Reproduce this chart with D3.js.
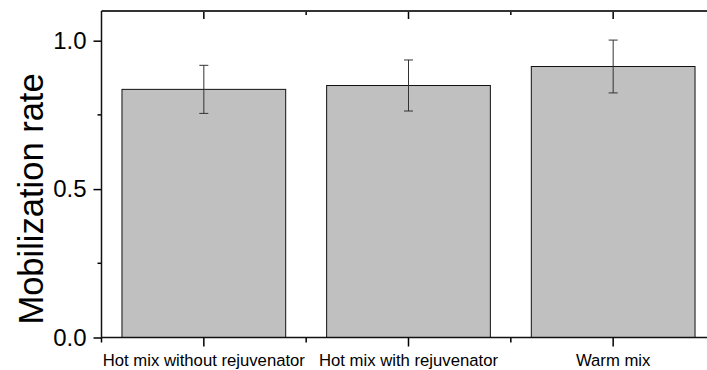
<!DOCTYPE html>
<html>
<head>
<meta charset="utf-8">
<script src="https://cdn.jsdelivr.net/npm/d3@7"></script>
<style>
  html, body { margin: 0; padding: 0; background: #fff; }
  svg { display: block; font-family: "Liberation Sans", Arial, sans-serif; }
</style>
</head>
<body>
<svg id="chart" width="707" height="370"></svg>
<script>
// Mobilization rate by mix type (mean ± error)
const categories = ["Hot mix without rejuvenator", "Hot mix with rejuvenator", "Warm mix"];
const means = [0.836, 0.849, 0.913];
const errors = [0.081, 0.086, 0.089];
const yTicks = [0.0, 0.5, 1.0];
const yMinorTicks = [0.25, 0.75];

const svg = d3.select("#chart");
const plot = { left: 101.5, right: 715.5, top: 11, bottom: 337.5 };

const x = d3.scaleBand()
  .domain(categories)
  .range([plot.left, plot.right])
  .paddingInner(0.2)
  .paddingOuter(0.1);

const y = d3.scaleLinear()
  .domain([0, 1.1])
  .range([plot.bottom, plot.top]);

const step = x.step();
const centers = categories.map(c => x(c) + x.bandwidth() / 2);
const boundaries = categories.map(c => x(c) + x.bandwidth() / 2 - step / 2)
  .concat([x(categories[categories.length - 1]) + x.bandwidth() / 2 + step / 2]);

// bars
svg.append("g").selectAll("rect")
  .data(categories)
  .join("rect")
  .attr("x", c => x(c))
  .attr("y", (c, i) => y(means[i]))
  .attr("width", x.bandwidth())
  .attr("height", (c, i) => y(0) - y(means[i]))
  .attr("fill", "#c0c0c0")
  .attr("stroke", "#111")
  .attr("stroke-width", 1);

// error bars
const eb = svg.append("g").attr("stroke", "#333").attr("stroke-width", 1).attr("fill", "none");
categories.forEach((c, i) => {
  const cx = x(c) + x.bandwidth() / 2;
  const hi = y(means[i] + errors[i]);
  const lo = y(means[i] - errors[i]);
  eb.append("line").attr("x1", cx).attr("x2", cx).attr("y1", hi).attr("y2", lo);
  eb.append("line").attr("x1", cx - 4.5).attr("x2", cx + 4.5).attr("y1", hi).attr("y2", hi);
  eb.append("line").attr("x1", cx - 4.5).attr("x2", cx + 4.5).attr("y1", lo).attr("y2", lo);
});

// left axis
const leftAxis = svg.append("g")
  .attr("transform", `translate(${plot.left},0)`)
  .call(d3.axisLeft(y).tickValues(yTicks).tickFormat(d3.format(".1f")).tickSize(8).tickPadding(7));
leftAxis.select(".domain").remove();
leftAxis.selectAll("line").attr("stroke", "#000").attr("stroke-width", 1.5);
leftAxis.selectAll("text").attr("font-size", 24).attr("fill", "#000")
  .attr("font-family", "Liberation Sans, Arial, sans-serif");
svg.append("g").selectAll("line").data(yMinorTicks).join("line")
  .attr("x1", plot.left - 4).attr("x2", plot.left)
  .attr("y1", d => y(d)).attr("y2", d => y(d))
  .attr("stroke", "#000").attr("stroke-width", 1.5);

// right axis ticks (inward)
svg.append("g").selectAll("line").data(yTicks).join("line")
  .attr("x1", plot.right - 8).attr("x2", plot.right)
  .attr("y1", d => y(d)).attr("y2", d => y(d))
  .attr("stroke", "#000").attr("stroke-width", 1.5);

// bottom axis
const bottomAxis = svg.append("g")
  .attr("transform", `translate(0,${plot.bottom})`)
  .call(d3.axisBottom(x).tickSize(9).tickPadding(8));
bottomAxis.select(".domain").remove();
bottomAxis.selectAll("line").attr("stroke", "#000").attr("stroke-width", 1.5);
bottomAxis.selectAll("text").attr("font-size", 16.7).attr("fill", "#000")
  .attr("font-family", "Liberation Sans, Arial, sans-serif");
svg.append("g").selectAll("line").data(boundaries).join("line")
  .attr("x1", d => d).attr("x2", d => d)
  .attr("y1", plot.bottom).attr("y2", plot.bottom + 5)
  .attr("stroke", "#000").attr("stroke-width", 1.5);

// top axis ticks (inward)
svg.append("g").selectAll("line").data(centers).join("line")
  .attr("x1", d => d).attr("x2", d => d)
  .attr("y1", plot.top).attr("y2", plot.top + 8)
  .attr("stroke", "#000").attr("stroke-width", 1.5);
svg.append("g").selectAll("line").data(boundaries.slice(1, -1)).join("line")
  .attr("x1", d => d).attr("x2", d => d)
  .attr("y1", plot.top).attr("y2", plot.top + 4)
  .attr("stroke", "#000").attr("stroke-width", 1.5);

// frame
const frame = svg.append("g").attr("stroke", "#111").attr("stroke-width", 1.5);
frame.append("line").attr("x1", plot.left).attr("x2", plot.right).attr("y1", plot.top).attr("y2", plot.top).attr("stroke", "#333").attr("stroke-width", 2);
frame.append("line").attr("x1", plot.left).attr("x2", plot.right).attr("y1", plot.bottom).attr("y2", plot.bottom);
frame.append("line").attr("x1", plot.left).attr("x2", plot.left).attr("y1", plot.top).attr("y2", plot.bottom);
frame.append("line").attr("x1", plot.right).attr("x2", plot.right).attr("y1", plot.top).attr("y2", plot.bottom);

// y axis title
svg.append("text")
  .attr("transform", "translate(43,199) rotate(-90)")
  .attr("text-anchor", "middle")
  .attr("font-size", 34.5)
  .attr("fill", "#000")
  .text("Mobilization rate");
</script>
</body>
</html>
